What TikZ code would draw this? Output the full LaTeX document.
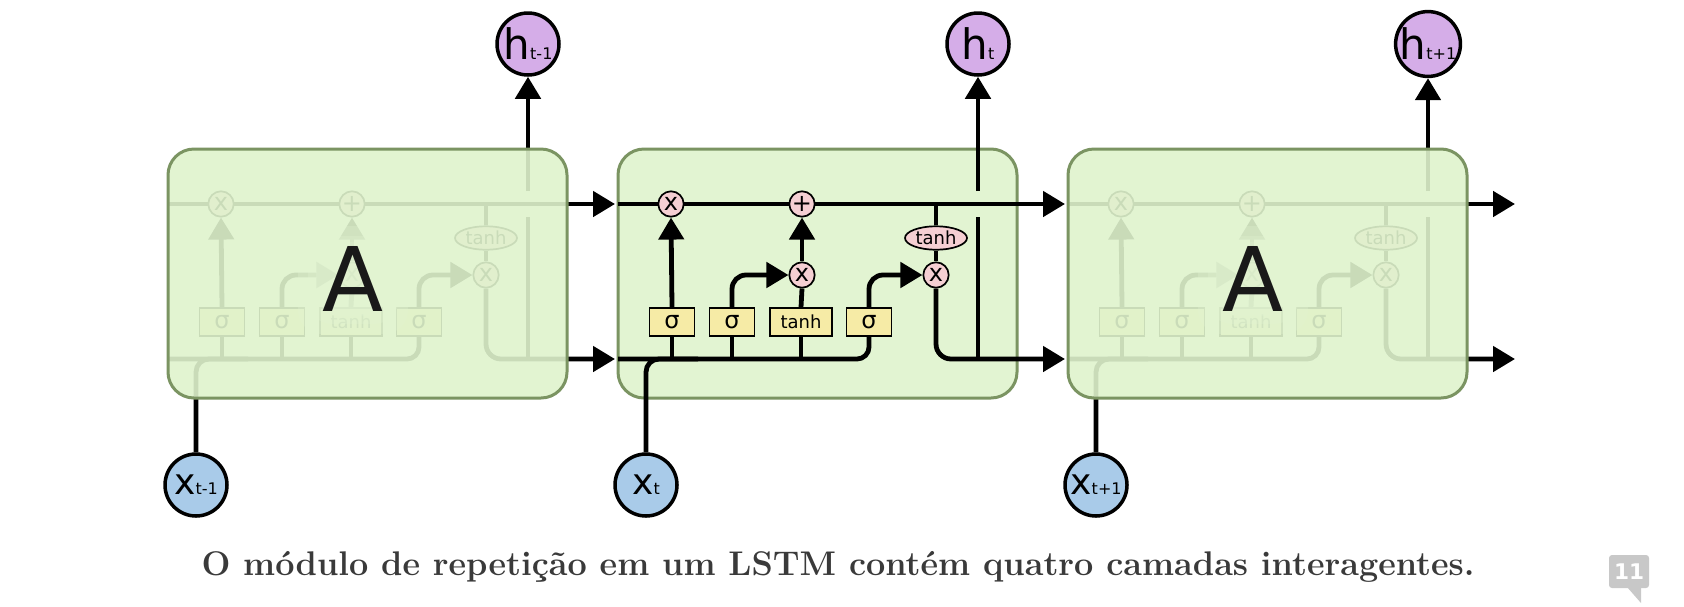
\documentclass[tikz,border=0pt]{standalone}
\usepackage{fontspec}
\newfontfamily\dejavu{DejaVu Sans}
\usetikzlibrary{arrows.meta,shapes.geometric}
\definecolor{boxfill}{HTML}{E2F4D2}
\definecolor{boxfillover}{HTML}{DFF3CD}
\definecolor{boxline}{HTML}{7B9462}
\definecolor{gatepink}{HTML}{F5CFD3}
\definecolor{layeryellow}{HTML}{F6EBA6}
\definecolor{hpurple}{HTML}{D5ADE8}
\definecolor{xblue}{HTML}{A9CBE9}
\definecolor{captiongray}{HTML}{3A3A3A}
\definecolor{badgegray}{HTML}{C8C8C8}
\tikzset{
  flow/.style={line width=2.4pt, draw=black},
  arr/.style={flow, -{Triangle[length=11pt,width=12.5pt]}},
  gate/.style={circle, draw=black, line width=0.85pt, fill=gatepink, minimum size=12.7pt, inner sep=0pt, font=\dejavu\fontsize{12}{12}\selectfont},
  layer/.style={rectangle, draw=black, line width=0.85pt, fill=layeryellow, minimum height=14pt, inner sep=0pt},
  sigbox/.style={layer, minimum width=22.5pt, font=\dejavu\fontsize{12}{12}\selectfont},
  tanhbox/.style={layer, minimum width=31pt, font=\dejavu\fontsize{9}{9}\selectfont},
  tanhell/.style={ellipse, draw=black, line width=0.85pt, fill=gatepink, minimum width=31pt, minimum height=11.7pt, inner sep=0pt, font=\dejavu\fontsize{9}{9}\selectfont},
  iocirc/.style={circle, draw=black, line width=1.75pt, minimum size=31pt, inner sep=0pt},
  hcirc/.style={iocirc, fill=hpurple},
  xcirc/.style={iocirc, fill=xblue},
  cellbox/.style={rounded corners=13pt},
  glow/.style={fill=boxfill, fill opacity=0.3, rounded corners=12pt},
}
\newcommand\lstmcell[3]{%
\begin{scope}[shift={(#1,0)}]
  \coordinate (#2cin) at (0,204);
  \coordinate (#2cout) at (447,204);
  \coordinate (#2bin) at (0,359);
  \coordinate (#2bout) at (447,359);
  \coordinate (#2xmerge) at (80,359);
  \coordinate (#2hbot) at (360,359);
  \coordinate (#2hgapl) at (360,217);
  \coordinate (#2hgapu) at (360,191);
  \draw[arr] (#2cin) -- (#2cout);
  \node[gate] (#2fx) at (53,204) {x};
  \node[gate] (#2plus) at (184,204) {+};
  \node[gate] (#2ix) at (184,275) {x};
  \node[gate] (#2ox) at (318,275) {x};
  \node[tanhell] (#2th) at (318,238) {tanh};
  \node[sigbox] (#2s1) at (54,322) {σ};
  \node[sigbox] (#2s2) at (114,322) {σ};
  \node[tanhbox] (#2tb) at (183,322) {tanh};
  \node[sigbox] (#2s4) at (251,322) {σ};
  \node[hcirc] (#2h) at (360,44) {{\dejavu\fontsize{21}{21}\selectfont h}{\dejavu\fontsize{8}{8}\selectfont #3}};
  \node[xcirc] (#2x) at (28,485) {{\dejavu\fontsize{18}{18}\selectfont x}{\dejavu\fontsize{8}{8}\selectfont #3}};
  \draw[flow, rounded corners=6pt] (#2bin) -| (#2s4.south);
  \draw[flow, rounded corners=6.5pt] (#2x.north) |- (#2xmerge);
  \draw[flow] (#2s1.south) -- (#2s1.south |- #2bin);
  \draw[flow] (#2s2.south) -- (#2s2.south |- #2bin);
  \draw[flow] (#2tb.south) -- (#2tb.south |- #2bin);
  \draw[arr] (#2s1.north) -- (#2fx.south);
  \draw[arr, rounded corners=7pt] (#2s2.north) |- (#2ix.west);
  \draw[flow] (#2tb.north) -- (#2ix.south);
  \draw[arr] (#2ix.north) -- (#2plus.south);
  \draw[arr, rounded corners=7pt] (#2s4.north) |- (#2ox.west);
  \draw[flow] (#2th.north) -- (#2th.north |- #2cin);
  \draw[flow] (#2th.south) -- (#2ox.north);
  \draw[arr, rounded corners=7.5pt] (#2ox.south) |- (#2bout);
  \draw[flow] (#2hbot) -- (#2hgapl);
  \draw[arr] (#2hgapu) -- (#2h.south);
\end{scope}}
\newcommand\fadedbox[2]{%
\begin{scope}[shift={(#1,0)}]
  \fill[boxfillover, fill opacity=0.9, cellbox] (0,149) rectangle (399,398);
  \draw[boxline, line width=1.5pt, cellbox] (0,149) rectangle (399,398);
  \fill[glow] (130,226) rectangle (240,334);
  \fill[glow] (140,236) rectangle (230,324);
  \fill[glow] (148,242) rectangle (222,316);
  \node[font=\dejavu\fontsize{44.6}{44.6}\selectfont, inner sep=0pt, text=black!90] (#2A) at (185,279) {A};
\end{scope}}
\begin{document}
\begin{tikzpicture}[x=0.5pt,y=-0.5pt]
  \fill[white] (0,0) rectangle (1684,606);
  \useasboundingbox (0,0) rectangle (1684,606);
  % left cell (faded)
  \lstmcell{168}{l}{t-1}
  \fadedbox{168}{l}
  % middle cell
  \fill[boxfill, cellbox] (618,149) rectangle (1017,398);
  \draw[boxline, line width=1.5pt, cellbox] (618,149) rectangle (1017,398);
  \lstmcell{618}{m}{t}
  % right cell (faded)
  \lstmcell{1068}{r}{t+1}
  \fadedbox{1068}{r}
  % caption
  \node[font=\bfseries\fontsize{17.1}{17.1}\selectfont, text=captiongray, anchor=base] (caption) at (838,575) {O módulo de repetição em um LSTM contém quatro camadas interagentes.};
  % page badge
  \fill[badgegray, rounded corners=1.5pt] (1609,555) rectangle (1649,588);
  \fill[badgegray] (1627,587) -- (1641,587) -- (1641,603) -- cycle;
  \node[font=\dejavu\bfseries\fontsize{10.8}{10.8}\selectfont, text=white, inner sep=0pt] (badge) at (1629,571.5) {11};
\end{tikzpicture}
\end{document}
